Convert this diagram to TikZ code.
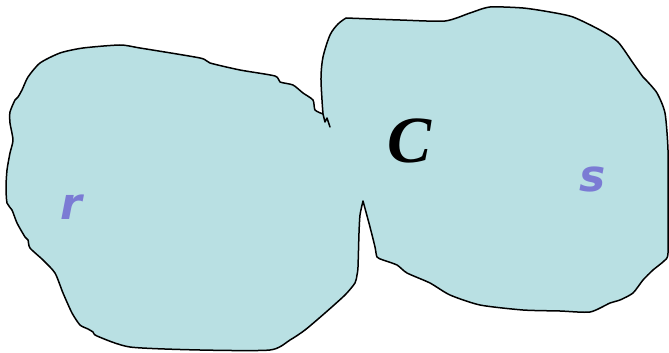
\documentclass[tikz,border=0pt]{standalone}
\usepackage{fontspec}
\newfontfamily\labfont{DejaVu Sans}
\newfontfamily\cfont{Liberation Serif}
\definecolor{blobfill}{RGB}{185,224,227}
\definecolor{labcol}{RGB}{123,123,212}
\begin{document}
\begin{tikzpicture}[x=1pt,y=-1pt,
  blob/.style={fill=blobfill,draw=black,line width=1.5pt,line join=round},
  edge/.style={draw=black,line width=1.5pt,line join=round,line cap=round},
  lab/.style={text=labcol,font=\labfont\bfseries\itshape\fontsize{44}{44}\selectfont,inner sep=0pt},
  clab/.style={text=black,font=\cfont\bfseries\itshape\fontsize{66}{66}\selectfont,inner sep=0pt}]
\useasboundingbox (0,0) rectangle (669,353);
\path[blob]
  plot[smooth,tension=0.5] coordinates {(323,114) (322,100) (321,77) (323,57) (330,35) (338,24) (346,18)}
  -- plot[smooth,tension=0.4] coordinates {(346,18) (400,20) (445,21) (470,13) (490,7) (523,8) (550,12) (573,17) (600,30) (618,42) (633,63) (643,77) (646,80) (657,93) (665,113) (668,150) (668,200) (668,253) (664,261) (653,270) (643,280) (633,293) (620,300) (610,303) (590,312) (560,311) (523,310) (480,305) (450,295) (430,283) (407,273) (397,265) (383,260) (377,257) (375,247) (370,227) (363,201)}
  -- plot[smooth,tension=0.4] coordinates {(363,201) (360,215) (359,233) (358,267) (357,275) (355,283) (345,295) (325,313) (305,330) (290,340) (270,350) (200,350) (130,347) (97,336) (93,332) (88,329) (80,325) (72,313) (63,293) (55,273) (43,260) (30,248) (28,240) (25,237) (17,223) (12,210) (7,203) (6,187) (7,170) (10,153) (13,140) (10,123) (10,112) (15,100) (18,97) (22,90) (28,77) (40,63) (60,53) (83,48) (120,45) (140,48) (200,58) (210,63) (240,70) (275,76) (280,82) (293,85) (303,93) (313,100) (315,110) (323,114)}
  -- cycle;
\draw[edge] (323,114) -- (325,122) -- (327,118) -- (330,127);
\node[lab] (r) at (71,207) {r};
\node[lab] (s) at (593,179) {s};
\node[clab] (C) at (410,141) {C};
\end{tikzpicture}
\end{document}
